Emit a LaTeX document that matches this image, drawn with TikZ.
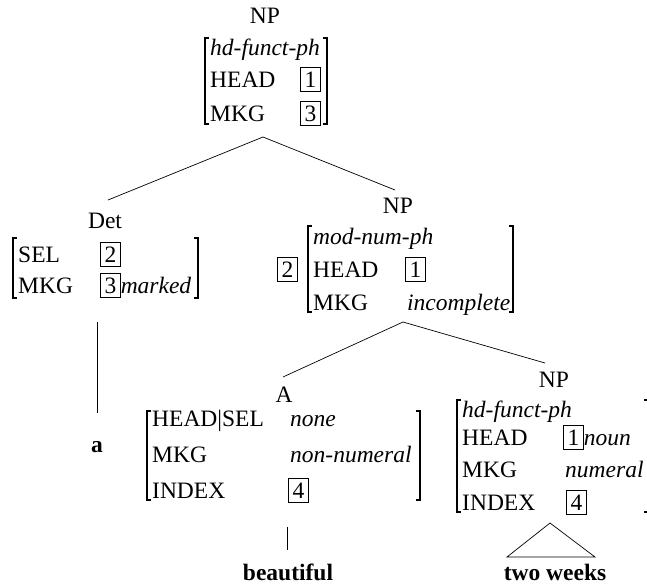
\documentclass[tikz,border=0pt]{standalone}
\usepackage{fontspec}
\setmainfont{Liberation Serif}
\newcommand\avmfont{\fontsize{23.5}{28}\selectfont}
% boxed structure-sharing tag
\newcommand\tagbox[1]{{\setlength\fboxsep{3.5pt}\setlength\fboxrule{0.9pt}\fbox{\upshape #1}}}
% square brackets of an attribute-value matrix: x, top y, bottom y
\newcommand\lbrk[3]{\draw[brk] (#1+4,#2) -- (#1,#2) -- (#1,#3) -- (#1+4,#3);}
\newcommand\rbrk[3]{\draw[brk] (#1-4,#2) -- (#1,#2) -- (#1,#3) -- (#1-4,#3);}
\tikzset{
  lbl/.style={anchor=base west, inner sep=0pt, font=\avmfont},
  cat/.style={anchor=base, inner sep=0pt, font=\avmfont},
  word/.style={anchor=base, inner sep=0pt, font=\avmfont\bfseries},
  branch/.style={line width=0.7pt},
  brk/.style={line width=1.1pt},
}
\begin{document}
\begin{tikzpicture}[x=1pt,y=-1pt]
\useasboundingbox (0,0) rectangle (647,584);

% root NP
\node[cat] (np1) at (265,23) {NP};
\node[lbl] (np1-type) at (210,55) {\itshape hd-funct-ph};
\node[lbl] (np1-head) at (210,87) {HEAD};
\node[lbl] (np1-headv) at (300,87) {\tagbox{1}};
\node[lbl] (np1-mkg) at (210,121) {MKG};
\node[lbl] (np1-mkgv) at (300,121) {\tagbox{3}};
\lbrk{205}{38}{124}
\rbrk{327}{38}{124}

% determiner
\node[cat] (det) at (105,228) {Det};
\node[lbl] (det-sel) at (18,262) {SEL};
\node[lbl] (det-selv) at (100,262) {\tagbox{2}};
\node[lbl] (det-mkg) at (18,293) {MKG};
\node[lbl] (det-mkgv) at (100,293) {\tagbox{3}\itshape marked};
\lbrk{13}{238}{298}
\rbrk{198}{238}{298}

% modified NP
\node[cat] (np2) at (398,213) {NP};
\node[lbl] (np2-tag) at (277,277) {\tagbox{2}};
\node[lbl] (np2-type) at (313,244) {\itshape mod-num-ph};
\node[lbl] (np2-head) at (313,277) {HEAD};
\node[lbl] (np2-headv) at (405,277) {\tagbox{1}};
\node[lbl] (np2-mkg) at (313,310) {MKG};
\node[lbl] (np2-mkgv) at (407,310) {\itshape incomplete};
\lbrk{308}{226}{312}
\rbrk{513}{226}{312}

% adjective
\node[cat] (adj) at (284,402) {A};
\node[lbl] (adj-sel) at (152,426) {HEAD|SEL};
\node[lbl] (adj-selv) at (290,426) {\itshape none};
\node[lbl] (adj-mkg) at (152,462) {MKG};
\node[lbl] (adj-mkgv) at (290,462) {\itshape non-numeral};
\node[lbl] (adj-idx) at (152,498) {INDEX};
\node[lbl] (adj-idxv) at (288,498) {\tagbox{4}};
\lbrk{147}{411}{500}
\rbrk{420}{411}{500}

% head noun phrase
\node[cat] (np3) at (554,387) {NP};
\node[lbl] (np3-type) at (462,417) {\itshape hd-funct-ph};
\node[lbl] (np3-head) at (462,445) {HEAD};
\node[lbl] (np3-headv) at (563,445) {\tagbox{1}\itshape noun};
\node[lbl] (np3-mkg) at (462,477) {MKG};
\node[lbl] (np3-mkgv) at (565,477) {\itshape numeral};
\node[lbl] (np3-idx) at (462,510) {INDEX};
\node[lbl] (np3-idxv) at (566,510) {\tagbox{4}};
\lbrk{457}{400}{512}
\rbrk{648}{400}{512}

% words
\node[word] (w-a) at (97,452) {a};
\node[word] (w-beautiful) at (288,580) {beautiful};
\node[word] (w-twoweeks) at (555,580) {two weeks};

% branch points
\coordinate (np1-foot) at (263,137);
\coordinate (det-top) at (108,200);
\coordinate (np2-top) at (395,190);
\coordinate (np2-foot) at (403,322);
\coordinate (adj-top) at (283,377);
\coordinate (np3-top) at (545,363);
\coordinate (det-foot) at (97,322);
\coordinate (a-top) at (97,413);
\coordinate (adj-foot) at (287,527);
\coordinate (beautiful-top) at (287,550);
\coordinate (np3-foot) at (550,523);
\coordinate (tri-l) at (507,557);
\coordinate (tri-r) at (595,557);

\draw[branch] (det-top) -- (np1-foot) -- (np2-top);
\draw[branch] (adj-top) -- (np2-foot) -- (np3-top);
\draw[branch] (det-foot) -- (a-top);
\draw[branch] (adj-foot) -- (beautiful-top);
\draw[branch] (np3-foot) -- (tri-l) -- (tri-r) -- cycle;
\end{tikzpicture}
\end{document}
